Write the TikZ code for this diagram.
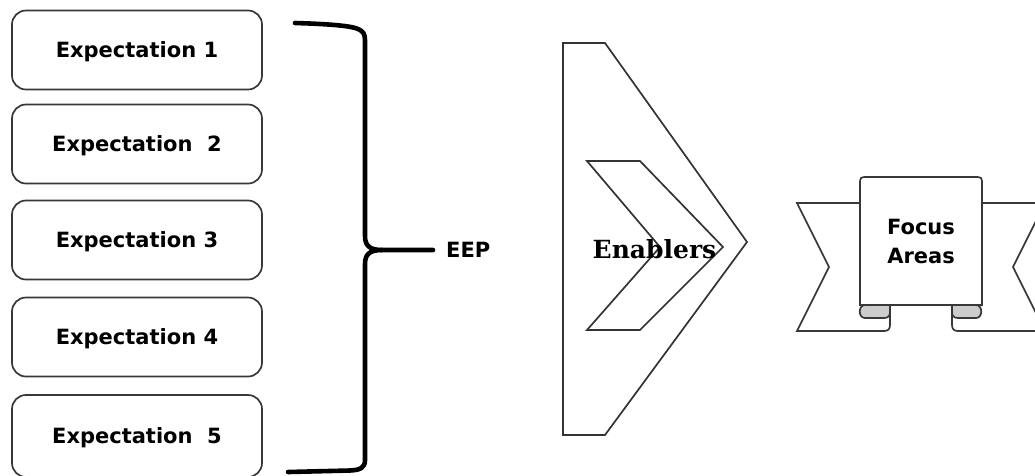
\documentclass[tikz,border=0pt]{standalone}
\usepackage{fontspec}
\setsansfont{DejaVu Sans}
\newfontfamily\enfont{DejaVu Serif}
\begin{document}
\begin{tikzpicture}[x=1pt,y=-1pt,
  expbox/.style={draw=black!78,line width=1.7pt,rounded corners=14pt,fill=white,
    minimum width=250pt,minimum height=79pt,inner sep=0pt,
    font=\sffamily\bfseries\fontsize{21}{25}\selectfont,text height=15.3pt,text depth=0pt},
  lbl/.style={font=\sffamily\bfseries\fontsize{21}{25}\selectfont,inner sep=0pt},
  bracestyle/.style={line width=4.6pt,black,line cap=round,line join=round},
  shapeline/.style={draw=black!80,line width=1.7pt,line join=miter},
  ribline/.style={draw=black!78,line width=1.7pt},
  curlfill/.style={fill=black!20,draw=black!78,line width=1.7pt}
]
\useasboundingbox (0,0) rectangle (1035,475);
\clip (0,0) rectangle (1035,475);

% Expectation boxes
\node[expbox] (e1) at (137,50) {Expectation 1};
\node[expbox] (e2) at (137,144) {Expectation\ \ 2};
\node[expbox] (e3) at (137,240) {Expectation 3};
\node[expbox] (e4) at (137,337) {Expectation 4};
\node[expbox,minimum height=82pt] (e5) at (137,436) {Expectation\ \ 5};

% EEP label and brace
\node[lbl,anchor=base west] (eep) at (446,257) {EEP};
\coordinate (btop) at (295,23);
\coordinate (bbot) at (288,472);
\coordinate (tip) at (433,250);
\draw[bracestyle] (btop) .. controls (330,24) and (352,26) .. (358,29)
  .. controls (363,31) and (365,34) .. (365,40) -- (365,236)
  .. controls (365,246) and (370,250) .. (382,250) -- (tip);
\draw[bracestyle] (382,250) .. controls (370,250) and (365,254) .. (365,264)
  -- (365,460) .. controls (365,468) and (360,470) .. (350,470.5) -- (bbot);

% Enablers chevrons
\draw[shapeline] (563,43) -- (605,43) -- (747,242) -- (605,435) -- (563,435) -- cycle;
\draw[shapeline] (587,161) -- (640,161) -- (723,247) -- (640,330) -- (587,330) -- (660,247) -- cycle;
\node[font=\enfont\bfseries\fontsize{25}{30}\selectfont,inner sep=0pt,anchor=base] (en) at (654.5,258) {Enablers};

% Focus Areas ribbon
\filldraw[ribline,fill=white] (860,203) -- (797,203) -- (829,267) -- (797,331) -- (884,331)
  .. controls (888,331) and (890,329) .. (890,325) -- (890,305);
\filldraw[ribline,fill=white] (982,203) -- (1045,203) -- (1013,267) -- (1045,331) -- (958,331)
  .. controls (954,331) and (952,329) .. (952,325) -- (952,305);
\filldraw[ribline,fill=white] (860,305) -- (860,185) .. controls (860,177) .. (868,177)
  -- (974,177) .. controls (982,177) .. (982,185) -- (982,305) -- cycle;
\filldraw[curlfill] (890,305) -- (865,305) .. controls (858,305) and (858,318) .. (865,318)
  -- (884,318) .. controls (888,318) and (890,316) .. (890,312) -- cycle;
\filldraw[curlfill] (952,305) -- (976,305) .. controls (983,305) and (983,318) .. (976,318)
  -- (958,318) .. controls (954,318) and (952,316) .. (952,312) -- cycle;
\node[lbl,anchor=base] (fa1) at (921,234) {Focus};
\node[lbl,anchor=base] (fa2) at (921,263) {Areas};
\end{tikzpicture}
\end{document}
